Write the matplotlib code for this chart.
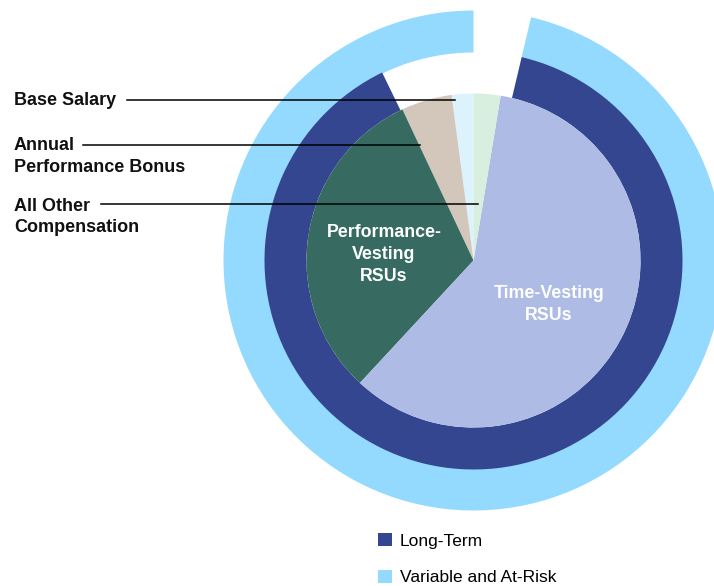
import matplotlib.pyplot as plt
from matplotlib.patches import Patch

# DATA
slice_labels = ["Base Salary", "Annual Performance Bonus", "Performance-Vesting RSUs",
                "Time-Vesting RSUs", "All Other Compensation"]
slice_values = [2.1, 4.9, 31.1, 59.3, 2.6]
slice_colors = ["#DCF2FD", "#D3C7BC", "#376B62", "#AEBBE5", "#D8EEDE"]

# rings, the 'gap' parts are not drawn
long_term_ring = [7.2, 89.1, 3.7]
variable_ring = [96.3, 3.7]

dark_blue = "#33468F"
light_blue = "#94D9FE"

# FIGURE (axes in pixel units, y up)
W, H = 714, 586
fig = plt.figure(figsize=(W / 100, H / 100), dpi=100)
ax = fig.add_axes([0, 0, 1, 1])

cx, cy = 473.5, H - 260.5

def py(y):
    # picture y (from top) -> axes y
    return H - y

# OUTER RING
ax.pie(variable_ring, radius=250, center=(cx, cy), startangle=90, counterclock=True,
       colors=[light_blue, "none"], wedgeprops=dict(width=42, linewidth=0), frame=True)

# MIDDLE RING
ax.pie(long_term_ring, radius=209, center=(cx, cy), startangle=90, counterclock=True,
       colors=["none", dark_blue, "none"], wedgeprops=dict(width=42, linewidth=0), frame=True)

# INNER PIE
ax.pie(slice_values, radius=167, center=(cx, cy), startangle=90, counterclock=True,
       colors=slice_colors, wedgeprops=dict(linewidth=0), frame=True)

ax.set_xlim(0, W)
ax.set_ylim(0, H)
ax.set_aspect("equal")
ax.axis("off")

font = "Liberation Sans"

# SLICE LABELS
ax.text(384, py(254.5), "Performance-\nVesting\nRSUs", color="white", fontsize=12.8,
        fontweight="bold", family=font, ha="center", va="center", linespacing=1.38)
ax.text(549, py(304.5), "Time-Vesting\nRSUs", color="white", fontsize=12.8,
        fontweight="bold", family=font, ha="center", va="center", linespacing=1.38)

# LEFT LABELS WITH LEADER LINES
left_labels = ["Base Salary", "Annual\nPerformance Bonus", "All Other\nCompensation"]
label_y = [100.5, 156.5, 217]
line_y = [100, 145, 204]
line_x0 = [127, 83, 101]
line_x1 = [455, 420, 478]

for txt, ty, ly, x0, x1 in zip(left_labels, label_y, line_y, line_x0, line_x1):
    ax.text(14, py(ty), txt, fontsize=13, fontweight="bold", family=font,
            ha="left", va="center", linespacing=1.38, color="#111111")
    ax.plot([x0, x1], [py(ly), py(ly)], color="black", linewidth=1.1)

# LEGEND
handles = [Patch(facecolor=dark_blue, label="Long-Term"),
           Patch(facecolor=light_blue, label="Variable and At-Risk")]
ax.legend(handles=handles, loc="upper left", bbox_to_anchor=(378 / W, 1 - 533 / H),
          frameon=False, handlelength=0.8, handleheight=0.8, handletextpad=0.45,
          labelspacing=1.2, borderpad=0, borderaxespad=0,
          prop=dict(family=font, size=12.5))

fig.savefig("out.png", dpi=100)
